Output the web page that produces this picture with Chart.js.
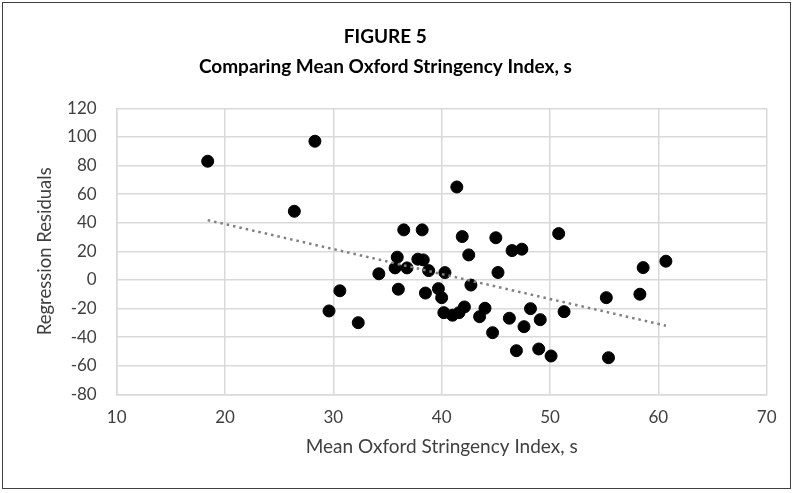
<!DOCTYPE html>
<html>
<head>
<meta charset="utf-8">
<script src="https://cdn.jsdelivr.net/npm/chart.js@4/dist/chart.umd.min.js"></script>
<style>
    html, body { margin: 0; padding: 0; background: #fff; }
    #marco {
        position: absolute; left: 2px; top: 2px;
        width: 789px; height: 487px;
        border: 1px solid #404040;
        box-sizing: border-box;
    }
    #residuos { display: block; }
</style>
</head>
<body>
<div id="marco"><canvas id="residuos" width="787" height="485"></canvas></div>
<script>
// Datos
var indiceX = [18.4, 26.4, 28.3, 29.6, 30.6, 32.3, 34.2, 35.7, 35.9, 36.0,
    36.5, 36.8, 37.8, 38.2, 38.3, 38.5, 38.8, 39.7, 40.0, 40.2,
    40.3, 41.0, 41.4, 41.6, 41.9, 42.1, 42.5, 42.7, 43.5, 44.0,
    44.7, 45.0, 45.2, 46.25, 46.5, 46.9, 47.4, 47.6, 48.2, 48.96,
    49.1, 50.1, 50.8, 51.3, 55.2, 55.4, 58.3, 58.6, 60.7];
var residuos = [83, 48, 97, -21.7, -7.6, -29.9, 4.3, 8.4, 15.9, -6.5,
    35, 8.4, 14.5, 35, 14.0, -9.2, 6.5, -6.1, -12.4, -22.9,
    5.1, -24.7, 65, -22.9, 30.3, -18.9, 17.5, -3.6, -25.7, -19.8,
    -36.9, 29.5, 5.2, -26.8, 20.5, -49.5, 21.5, -32.7, -20.1, -48.3,
    -27.8, -53.2, 32.4, -22.2, -12.4, -54.4, -10, 8.6, 13.1];
// extremos de la linea de tendencia
var tendenciaX = [18.4, 60.7];
var tendenciaY = [41.8, -32];
var ticksY = [-80, 120, 20];
var ticksX = [10, 70, 10];

function puntos(xs, ys) {
    return xs.map(function (x, i) { return { x: x, y: ys[i] }; });
}

function cargaGraficoResiduos() {
    var fuente = "Lato, 'Open Sans', sans-serif";
    var ctx = document.getElementById("residuos");
    new Chart(ctx, {
        type: "scatter",
        data: {
            datasets: [
                {
                    label: "Residuos",
                    data: puntos(indiceX, residuos),
                    backgroundColor: "#000000",
                    borderColor: "#000000",
                    pointRadius: 6,
                    order: 2,
                },
                {
                    label: "Tendencia",
                    type: "line",
                    data: puntos(tendenciaX, tendenciaY),
                    borderColor: "#808080",
                    borderWidth: 2.5,
                    borderDash: [2.5, 4],
                    pointRadius: 0,
                    fill: false,
                    order: 1,
                },
            ],
        },
        options: {
            responsive: false,
            animation: false,
            layout: { padding: { left: 0, right: 22.3, top: 0, bottom: 0 } },
            plugins: {
                legend: { display: false },
                tooltip: { enabled: false },
                title: {
                    display: true,
                    text: ["FIGURE 5", "Comparing Mean Oxford Stringency Index, s"],
                    color: "#000000",
                    font: { family: fuente, size: 19, weight: "bold", lineHeight: 1.58 },
                    padding: { top: 19, bottom: 26.3 },
                },
            },
            scales: {
                x: {
                    type: "linear",
                    min: ticksX[0],
                    max: ticksX[1],
                    afterFit: function (escala) { escala.height = 93.7; },
                    ticks: { stepSize: ticksX[2], color: "#404040", font: { family: fuente, size: 17 }, padding: 13.5 },
                    grid: { color: "#d9d9d9", lineWidth: 1.5, drawTicks: false },
                    border: { color: "#d9d9d9", width: 1.5 },
                    title: {
                        display: true,
                        text: "Mean Oxford Stringency Index, s",
                        color: "#404040",
                        font: { family: fuente, size: 19 },
                        padding: { top: 0, bottom: 29.6 },
                    },
                },
                y: {
                    min: ticksY[0],
                    max: ticksY[1],
                    afterFit: function (escala) { escala.width = 113.7; },
                    ticks: { stepSize: ticksY[2], color: "#404040", font: { family: fuente, size: 17 }, padding: 20 },
                    grid: { color: "#d9d9d9", lineWidth: 1.5, drawTicks: false },
                    border: { color: "#d9d9d9", width: 1.5 },
                    title: {
                        display: true,
                        text: "Regression Residuals",
                        color: "#404040",
                        font: { family: fuente, size: 18.5 },
                        padding: { top: 30.9, bottom: 0 },
                    },
                },
            },
        },
    });
}

cargaGraficoResiduos();
</script>
</body>
</html>
